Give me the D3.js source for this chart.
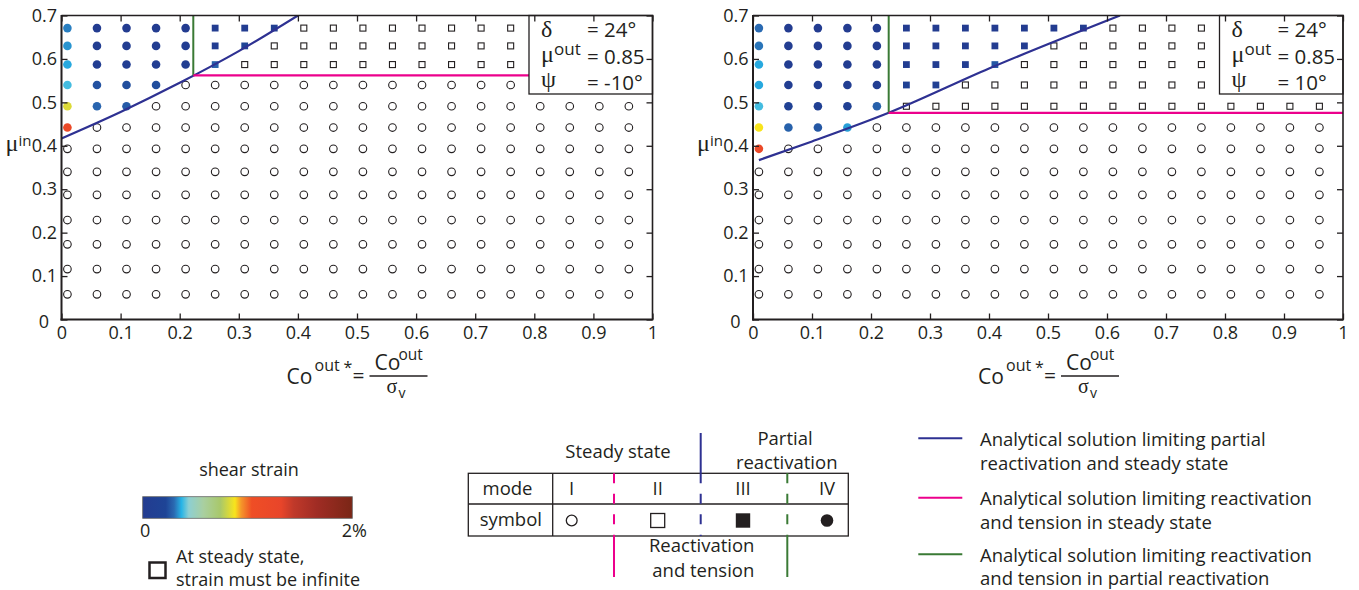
<!doctype html>
<html lang="en">
<head>
<meta charset="utf-8">
<style>
  body{margin:0;background:#fff;}
  svg{display:block;font-family:"Open Sans",sans-serif;}
  text{fill:#231f20;}
  .axis text{font-family:"Open Sans",sans-serif;font-size:18px;fill:#231f20;}
  .axis line{stroke:#231f20;stroke-width:1.3;}
  .greek{font-family:"Liberation Serif",serif;}
</style>
</head>
<body>
<svg id="fig" width="1359" height="590"></svg>
<script src="https://d3js.org/d3.v7.min.js"></script>
<script>

// runs: Co_out* along x, mu_in along y (rows listed from the top)
var coOut = [0.01,0.06,0.11,0.16,0.21,0.26,0.31,0.36,0.41,0.46,0.51,0.56,0.61,0.66,0.71,0.76,0.81,0.86,0.91,0.96];
var muIn = [0.671,0.630,0.587,0.540,0.491,0.442,0.393,0.340,0.287,0.229,0.173,0.116,0.058];
var xTicks = [0,0.1,0.2,0.3,0.4,0.5,0.6,0.7,0.8,0.9,1];
var yTicks = [0,0.1,0.2,0.3,0.4,0.5,0.6,0.7];

// mode of each run, one string per row : 1 = I, 2 = II, 3 = III, 4 = IV
var modesLeft = [
  "44444333222222222222",
  "44444332222222222222",
  "44444322222222222222",
  "44441111111111111111",
  "44411111111111111111",
  "41111111111111111111",
  "11111111111111111111",
  "11111111111111111111",
  "11111111111111111111",
  "11111111111111111111",
  "11111111111111111111",
  "11111111111111111111",
  "11111111111111111111"
];
var modesRight = [
  "44444333333322222222",
  "44444333332222222222",
  "44444333322222222222",
  "44444332222222222222",
  "44444222222222222222",
  "44441111111111111111",
  "41111111111111111111",
  "11111111111111111111",
  "11111111111111111111",
  "11111111111111111111",
  "11111111111111111111",
  "11111111111111111111",
  "11111111111111111111"
];
// shear strain (%) of the filled markers of each row, left to right
var strainLeft = [
  [0.32,0,0,0,0,0.02,0.02,0.08],
  [0.34,0.04,0.04,0.04,0.04,0.04,0.22],
  [0.36,0.06,0.06,0.06,0.06,0.28],
  [0.39,0.25,0.24,0.24],
  [0.83,0.29,0.27],
  [1.2]
];
var strainRight = [
  [0.30,0,0,0,0,0,0,0,0,0,0,0.02],
  [0.31,0.02,0.02,0.02,0.02,0.02,0.02,0.02,0.02,0.02],
  [0.36,0.04,0.04,0.04,0.04,0.04,0.04,0.04,0.26],
  [0.36,0.06,0.06,0.06,0.06,0.15,0.1],
  [0.39,0.15,0.12,0.12,0.28],
  [0.88,0.28,0.26,0.35],
  [1.2]
];

// analytical solutions
var blueLeft = [[0,0.417],[0.1,0.478],[0.2,0.545],[0.3,0.618],[0.4,0.70]];
var blueRight = [[0.01,0.367],[0.1,0.41],[0.23,0.476],[0.4,0.578],[0.622,0.70]];
var cornerLeft = [0.223,0.562];
var cornerRight = [0.23,0.476];

var boxSymbols = ["δ","μ","ψ"];
var boxLeft = ["= 24°","= 0.85","= -10°"];
var boxRight = ["= 24°","= 0.85","= 10°"];

// colour bar of shear strain (%)
var strainStops = [0,0.22,0.30,0.37,0.44,0.58,0.74,0.88,0.94,1.04,1.32,1.44,1.66,2];
var strainColors = ["#233c90","#1e4496","#2a6ab2","#27b4e6","#8dcfd2","#a9cfa0","#a9c86a","#f8e41c","#f5962a","#ef4e25","#e8452a","#c0392a","#a02c24","#7a2616"];

var modeNames = ["I","II","III","IV"];
var legendLines = [
  ["Analytical solution limiting partial","reactivation and steady state"],
  ["Analytical solution limiting reactivation","and tension in steady state"],
  ["Analytical solution limiting reactivation","and tension in partial reactivation"]
];

var BLUE = "#2e3192", PINK = "#ec008c", GREEN = "#3a7a35", INK = "#231f20";

var svg = d3.select("#fig");
var color = d3.scaleLinear().domain(strainStops).range(strainColors);

function panel(id, x0, x1, modes, strain, blue, corner, values) {
  var x = d3.scaleLinear().domain([0,1]).range([x0,x1]);
  var y = d3.scaleLinear().domain([0,0.7]).range([319.5,15.5]);
  var g = svg.append("g");

  g.append("clipPath").attr("id","clip"+id).append("rect")
    .attr("x",x0).attr("y",15.5).attr("width",x1-x0).attr("height",304);

  var pts = [];
  modes.forEach(function(row,r){
    var k = 0;
    row.split("").forEach(function(m,c){
      var d = {x:coOut[c], y:muIn[r], mode:+m};
      if (d.mode >= 3) d.s = strain[r][k++];
      pts.push(d);
    });
  });

  g.selectAll("circle.open").data(pts.filter(function(d){return d.mode==1;})).enter()
    .append("circle").attr("cx",function(d){return x(d.x);}).attr("cy",function(d){return y(d.y);})
    .attr("r",3.8).attr("fill","#fff").attr("stroke",INK).attr("stroke-width",1.1);
  g.selectAll("rect.open").data(pts.filter(function(d){return d.mode==2;})).enter()
    .append("rect").attr("x",function(d){return x(d.x)-3;}).attr("y",function(d){return y(d.y)-3;})
    .attr("width",6).attr("height",6).attr("fill","#fff").attr("stroke",INK).attr("stroke-width",1.1);
  g.selectAll("rect.full").data(pts.filter(function(d){return d.mode==3;})).enter()
    .append("rect").attr("x",function(d){return x(d.x)-3.4;}).attr("y",function(d){return y(d.y)-3.4;})
    .attr("width",6.8).attr("height",6.8).attr("fill",function(d){return color(d.s);});
  g.selectAll("circle.full").data(pts.filter(function(d){return d.mode==4;})).enter()
    .append("circle").attr("cx",function(d){return x(d.x);}).attr("cy",function(d){return y(d.y);})
    .attr("r",4.3).attr("fill",function(d){return color(d.s);});

  var lines = g.append("g").attr("clip-path","url(#clip"+id+")");
  lines.append("path").datum(blue)
    .attr("d",d3.line().x(function(d){return x(d[0]);}).y(function(d){return y(d[1]);}).curve(d3.curveMonotoneX))
    .attr("fill","none").attr("stroke",BLUE).attr("stroke-width",2.2);
  lines.append("line").attr("x1",x(corner[0])).attr("x2",x(corner[0])).attr("y1",y(corner[1])).attr("y2",y(0.7))
    .attr("stroke",GREEN).attr("stroke-width",2);
  lines.append("line").attr("x1",x(corner[0])).attr("x2",x(1)).attr("y1",y(corner[1])).attr("y2",y(corner[1]))
    .attr("stroke",PINK).attr("stroke-width",2.2);

  // parameter box
  var bx = x1 - 123.5;
  g.append("rect").attr("x",bx).attr("y",15.5).attr("width",123.5).attr("height",78.5)
    .attr("fill","#fff").attr("stroke",INK).attr("stroke-width",1.3);
  var symY = [37,62,87], valY = [37,64,90];
  boxSymbols.forEach(function(s,i){
    g.append("text").attr("class","greek").attr("x",bx+12).attr("y",symY[i]).style("font-size","24px").text(s);
    g.append("text").attr("x",bx+58).attr("y",valY[i]).style("font-size","20.5px").text(values[i]);
  });
  g.append("text").attr("x",bx+25).attr("y",55).style("font-size","17px").text("out");

  // axes, ticks pointing inwards
  var gx = g.append("g").attr("class","axis").attr("transform","translate(0,319.5)")
    .call(d3.axisBottom(x).tickValues(xTicks).tickSize(-6).tickPadding(6.5).tickFormat(d3.format("")));
  var gy = g.append("g").attr("class","axis").attr("transform","translate("+x0+",0)")
    .call(d3.axisLeft(y).tickValues(yTicks).tickSize(-6).tickPadding(4.5).tickFormat(d3.format("")));
  var gt = g.append("g").attr("class","axis").attr("transform","translate(0,15.5)")
    .call(d3.axisTop(x).tickValues(xTicks).tickSize(-6).tickFormat(""));
  var gr = g.append("g").attr("class","axis").attr("transform","translate("+x1+",0)")
    .call(d3.axisRight(y).tickValues(yTicks).tickSize(-6).tickFormat(""));
  [gx,gy,gt,gr].forEach(function(a){ a.select(".domain").remove(); });
  gy.selectAll(".tick text").filter(function(d){return d===0;}).attr("dx","-8").attr("dy","0.45em");

  g.append("line").attr("x1",x0).attr("x2",x0).attr("y1",15).attr("y2",320.5).attr("stroke",INK).attr("stroke-width",2);
  g.append("line").attr("x1",x0-1).attr("x2",x1+0.8).attr("y1",319.5).attr("y2",319.5).attr("stroke",INK).attr("stroke-width",2);
  g.append("line").attr("x1",x0).attr("x2",x1+0.8).attr("y1",15.5).attr("y2",15.5).attr("stroke",INK).attr("stroke-width",1.6);
  g.append("line").attr("x1",x1).attr("x2",x1).attr("y1",15.5).attr("y2",319.5).attr("stroke",INK).attr("stroke-width",1.6);

  // y label
  var yl = g.append("text").attr("x",x0-56).attr("y",151);
  yl.append("tspan").attr("class","greek").style("font-size","24px").text("μ");
  yl.append("tspan").attr("dy",-5).style("font-size","15px").text("in");

  // x label : Co_out* = Co_out / sigma_v
  var s = x0 + 225;
  g.append("text").attr("x",s).attr("y",384).style("font-size","21px").text("Co");
  g.append("text").attr("x",s+28).attr("y",371).style("font-size","16px").text("out");
  g.append("text").attr("x",s+57).attr("y",373).style("font-size","16px").text("*");
  g.append("text").attr("x",s+72).attr("y",383).attr("text-anchor","middle").style("font-size","21px").text("=");
  g.append("line").attr("x1",s+83).attr("x2",s+141).attr("y1",376).attr("y2",376).attr("stroke",INK).attr("stroke-width",1.6);
  g.append("text").attr("x",s+88).attr("y",370).style("font-size","21px").text("Co");
  g.append("text").attr("x",s+112).attr("y",359.5).style("font-size","15.5px").text("out");
  g.append("text").attr("class","greek").attr("x",s+100).attr("y",393).style("font-size","20px").text("σ");
  g.append("text").attr("x",s+112).attr("y",398).style("font-size","14px").text("v");
}

panel("L", 61.5, 652.5, modesLeft, strainLeft, blueLeft, cornerLeft, boxLeft);
panel("R", 753, 1343, modesRight, strainRight, blueRight, cornerRight, boxRight);

// colour bar
var grad = svg.append("defs").append("linearGradient").attr("id","jet");
grad.selectAll("stop").data(strainStops).enter().append("stop")
  .attr("offset",function(d){return d/2;}).attr("stop-color",function(d){return color(d);});
svg.append("text").attr("x",249).attr("y",476).attr("text-anchor","middle").style("font-size","18px").text("shear strain");
svg.append("rect").attr("x",142.7).attr("y",496.7).attr("width",209.6).attr("height",21.6)
  .attr("fill","url(#jet)").attr("stroke","#666").attr("stroke-width",0.8);
svg.append("text").attr("x",140).attr("y",537).style("font-size","18px").text("0");
svg.append("text").attr("x",367).attr("y",537).attr("text-anchor","end").style("font-size","18px").text("2%");
svg.append("rect").attr("x",149.5).attr("y",562.5).attr("width",16).attr("height",15.5)
  .attr("fill","none").attr("stroke",INK).attr("stroke-width",2.5);
svg.append("text").attr("x",176).attr("y",563).style("font-size","18px").text("At steady state,");
svg.append("text").attr("x",176).attr("y",586).style("font-size","18px").text("strain must be infinite");

// mode table
var tb = svg.append("g");
tb.append("rect").attr("x",468.3).attr("y",473.3).attr("width",380).attr("height",62.7)
  .attr("fill","none").attr("stroke",INK).attr("stroke-width",1.3);
tb.append("line").attr("x1",468.3).attr("x2",848.3).attr("y1",504).attr("y2",504).attr("stroke",INK).attr("stroke-width",1.3);
tb.append("line").attr("x1",552.7).attr("x2",552.7).attr("y1",473.3).attr("y2",536).attr("stroke",INK).attr("stroke-width",1.3);
tb.append("text").attr("x",507.5).attr("y",495).attr("text-anchor","middle").style("font-size","18.5px").text("mode");
tb.append("text").attr("x",510.8).attr("y",526).attr("text-anchor","middle").style("font-size","18.5px").text("symbol");
var colX = [571.7,657.7,743,827];
modeNames.forEach(function(m,i){
  tb.append("text").attr("x",colX[i]).attr("y",495).attr("text-anchor","middle").style("font-size","18.5px").text(m);
});
tb.append("circle").attr("cx",colX[0]).attr("cy",520.5).attr("r",5.4).attr("fill","#fff").attr("stroke",INK).attr("stroke-width",1.3);
tb.append("rect").attr("x",colX[1]-7).attr("y",513.5).attr("width",14).attr("height",14).attr("fill","#fff").attr("stroke",INK).attr("stroke-width",1.3);
tb.append("rect").attr("x",colX[2]-7.2).attr("y",513.3).attr("width",14.4).attr("height",14.4).attr("fill",INK);
tb.append("circle").attr("cx",colX[3]).attr("cy",520.5).attr("r",6.3).attr("fill",INK);
[[614,PINK,536,577],[700.7,BLUE,433,473.3],[787.3,GREEN,536,577]].forEach(function(l){
  tb.append("line").attr("x1",l[0]).attr("x2",l[0]).attr("y1",473.3).attr("y2",536)
    .attr("stroke",l[1]).attr("stroke-width",2).attr("stroke-dasharray","10,10.5");
  tb.append("line").attr("x1",l[0]).attr("x2",l[0]).attr("y1",l[2]).attr("y2",l[3])
    .attr("stroke",l[1]).attr("stroke-width",2);
});
tb.append("text").attr("x",618).attr("y",458).attr("text-anchor","middle").style("font-size","18.5px").text("Steady state");
tb.append("text").attr("x",785).attr("y",445).attr("text-anchor","middle").style("font-size","18.5px").text("Partial");
tb.append("text").attr("x",786.7).attr("y",469).attr("text-anchor","middle").style("font-size","18.5px").text("reactivation");
tb.append("text").attr("x",701.7).attr("y",552).attr("text-anchor","middle").style("font-size","18.5px").text("Reactivation");
tb.append("text").attr("x",703.3).attr("y",576.5).attr("text-anchor","middle").style("font-size","18.5px").text("and tension");

// legend of the analytical solutions
var lg = svg.append("g");
var lgColors = [BLUE,PINK,GREEN], lgY = [438.3,497.7,554.3], lgBase = [446,505,561.7];
legendLines.forEach(function(t,i){
  lg.append("line").attr("x1",918.3).attr("x2",962.3).attr("y1",lgY[i]).attr("y2",lgY[i])
    .attr("stroke",lgColors[i]).attr("stroke-width",2);
  t.forEach(function(s,j){
    lg.append("text").attr("x",980).attr("y",lgBase[i]+23.5*j).style("font-size","18.5px").text(s);
  });
});

</script>
</body>
</html>
